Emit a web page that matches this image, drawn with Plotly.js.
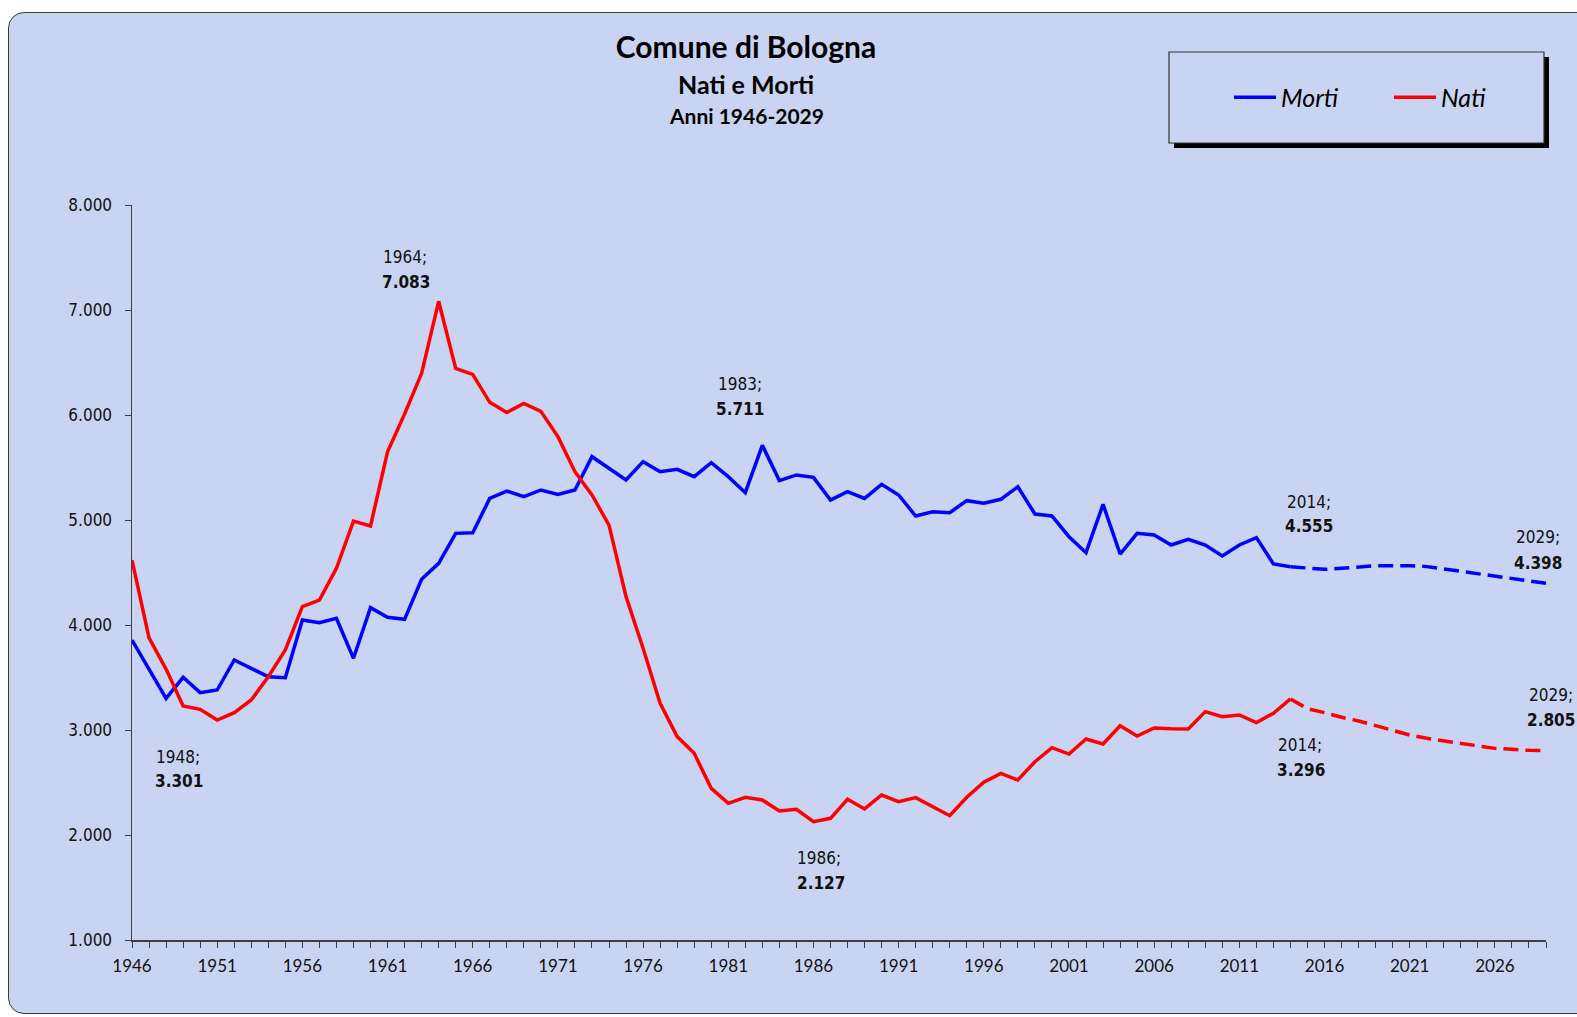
<!DOCTYPE html>
<html><head><meta charset="utf-8">
<script src="https://cdn.plot.ly/plotly-3.0.1.min.js"></script>
<style>
html,body{margin:0;padding:0;background:#fff;width:1577px;height:1017px;overflow:hidden;}
#frame{position:absolute;left:8px;top:12px;width:1600px;height:1000px;border:1.5px solid #3a3a3a;border-radius:16px;background:#c8d4f2;}
#chart{position:absolute;left:0;top:0;width:1577px;height:1017px;}
</style></head><body>
<div id="frame"></div><div id="chart"></div>
<script>
const years = [1946,1947,1948,1949,1950,1951,1952,1953,1954,1955,1956,1957,1958,1959,1960,1961,1962,1963,1964,1965,
1966,1967,1968,1969,1970,1971,1972,1973,1974,1975,1976,1977,1978,1979,1980,1981,1982,1983,1984,1985,
1986,1987,1988,1989,1990,1991,1992,1993,1994,1995,1996,1997,1998,1999,2000,2001,2002,2003,2004,2005,
2006,2007,2008,2009,2010,2011,2012,2013,2014,2015,2016,2017,2018,2019,2020,2021,2022,2023,2024,2025,
2026,2027,2028,2029];

const morti = [3857,3571,3301,3502,3356,3381,3667,3587,3508,3498,4048,4022,4063,3683,4165,4073,4054,4435,4587,4873,
4879,5206,5276,5222,5286,5244,5286,5603,5492,5381,5556,5460,5482,5413,5546,5413,5260,5711,5375,5429,
5406,5190,5270,5206,5340,5238,5038,5079,5070,5184,5159,5197,5317,5057,5038,4841,4689,5149,4676,4873,
4857,4762,4816,4762,4657,4762,4832,4581,4555,4540,4530,4540,4552,4565,4565,4565,4556,4533,4508,4486,
4460,4438,4419,4398];

const nati = [4619,3877,3580,3229,3197,3095,3165,3286,3508,3762,4175,4238,4540,4990,4943,5650,6010,6397,7083,6444,
6387,6121,6024,6111,6035,5794,5460,5238,4952,4270,3778,3254,2937,2778,2444,2302,2359,2333,2229,2244,
2127,2159,2340,2248,2381,2317,2356,2270,2184,2359,2502,2587,2524,2698,2832,2771,2914,2867,3041,2943,
3020,3012,3010,3175,3127,3143,3070,3159,3296,3203,3165,3121,3086,3041,2990,2952,2921,2895,2873,2848,
2825,2816,2806,2805];

const seriesNames = ['Morti','Nati'];
const lastObservedYear = 2014;
const yTicks = [1000,2000,3000,4000,5000,6000,7000,8000];

// labelled points: [series, year]
const labelPoints = [['Morti',1948],['Nati',1964],['Morti',1983],['Nati',1986],['Morti',2014],['Nati',2014],['Morti',2029],['Nati',2029]];
// pixel offsets (style): [xshift year, yshift year, xshift value, yshift value]
const labelOffsets = [[12,-59,13,-83],[-34,44,-33,19],[-22,61,-22,36],[6,-36,8,-61],[19,65,19,41],[10,-46,11,-71],[-8,46,-8,20],[5,55,5,30]];

const BG = '#c8d4f2';
const colors = {Morti:'#0000ff', Nati:'#ff0000'};
const data = {Morti: morti, Nati: nati};
const split = years.indexOf(lastObservedYear);

function fmt(v){ const t = Math.floor(v/1000), r = v % 1000; return t + '.' + String(r).padStart(3,'0'); }

const traces = [];
seriesNames.forEach(n => {
  traces.push({x: years.slice(0, split+1), y: data[n].slice(0, split+1), name: n, mode:'lines', type:'scatter',
    line:{color:colors[n], width:3.5}, legendgroup:n, hoverinfo:'x+y'});
});
seriesNames.forEach(n => {
  traces.push({x: years.slice(split), y: data[n].slice(split), name: n, mode:'lines', type:'scatter',
    line:{color:colors[n], width:3.5, dash:'15px,7px'}, legendgroup:n, showlegend:false, hoverinfo:'x+y'});
});

const lblFont = {family:'DejaVu Sans Condensed, DejaVu Sans, sans-serif', size:17, color:'#111'};
const annotations = [];
labelPoints.forEach((p, i) => {
  const [n, yr] = p; const v = data[n][years.indexOf(yr)]; const o = labelOffsets[i];
  annotations.push({x:yr, y:v, xref:'x', yref:'y', text: yr + ';', showarrow:false, xanchor:'center', yanchor:'middle', xshift:o[0], yshift:o[1], font:lblFont});
  annotations.push({x:yr, y:v, xref:'x', yref:'y', text: '<b>' + fmt(v) + '</b>', showarrow:false, xanchor:'center', yanchor:'middle', xshift:o[2], yshift:o[3], font:lblFont});
});
annotations.push({xref:'paper', yref:'paper', x:(746-132)/1414, y:(940-84)/735, text:'<b>Nati e Morti</b>', showarrow:false, xanchor:'center', yanchor:'middle', font:{family:'Lato, sans-serif', size:25, color:'#000'}});
annotations.push({xref:'paper', yref:'paper', x:(746-132)/1414, y:(940-115)/735, text:'<b>Anni 1946-2029</b>', showarrow:false, xanchor:'center', yanchor:'middle', font:{family:'Lato, sans-serif', size:21, color:'#000'}});

const px = v => (v-132)/1414, py = v => (940-v)/735;
const shapes = [
  {type:'rect', xref:'paper', yref:'paper', x0:px(1174), x1:px(1549), y0:py(148), y1:py(57), fillcolor:'#000', line:{width:0}, layer:'above'},
  {type:'rect', xref:'paper', yref:'paper', x0:px(1169), x1:px(1544), y0:py(143), y1:py(52), fillcolor:BG, line:{color:'#333', width:1.2}, layer:'above'}
];

const layout = {
  width:1577, height:1017,
  margin:{l:132, r:31, t:205, b:77, pad:0, autoexpand:false},
  paper_bgcolor:'rgba(0,0,0,0)', plot_bgcolor:'rgba(0,0,0,0)',
  separators:',.',
  title:{text:'<b>Comune di Bologna</b>', x:746/1577, xref:'container', xanchor:'center', y:1-47/1017, yref:'container', yanchor:'middle', font:{family:'Lato, sans-serif', size:30, color:'#000'}},
  showlegend:true,
  legend:{orientation:'h', x:px(1229), xanchor:'left', y:py(97.5), yanchor:'middle', bgcolor:'rgba(0,0,0,0)', borderwidth:0, itemwidth:42,
    font:{family:'Lato, sans-serif', size:25, style:'italic', color:'#000'}, entrywidth:103, entrywidthmode:'pixels', traceorder:'normal'},
  xaxis:{range:[years[0], years[years.length-1]], tick0:years[0], dtick:5, ticks:'outside', ticklen:6, tickcolor:'#404040', tickwidth:1,
    showline:true, linecolor:'#404040', linewidth:1.5, showgrid:false, zeroline:false, fixedrange:true, ticklabelstandoff:4, automargin:false,
    tickfont:{family:'Lato, sans-serif', size:17, color:'#111'},
    minor:{dtick:1, ticks:'outside', ticklen:6, tickcolor:'#404040', tickwidth:1, showgrid:false}},
  yaxis:{range:[yTicks[0], yTicks[yTicks.length-1]], tickvals:yTicks, tickformat:',d', ticks:'outside', ticklen:6, tickcolor:'#404040',
    showline:true, linecolor:'#404040', linewidth:1.5, showgrid:false, zeroline:false, fixedrange:true, ticklabelstandoff:9, automargin:false,
    tickfont:{family:'DejaVu Sans Condensed, DejaVu Sans, sans-serif', size:17, color:'#111'}},
  annotations: annotations,
  shapes: shapes
};

Plotly.newPlot('chart', traces, layout, {displayModeBar:false, staticPlot:true});
</script></body></html>
